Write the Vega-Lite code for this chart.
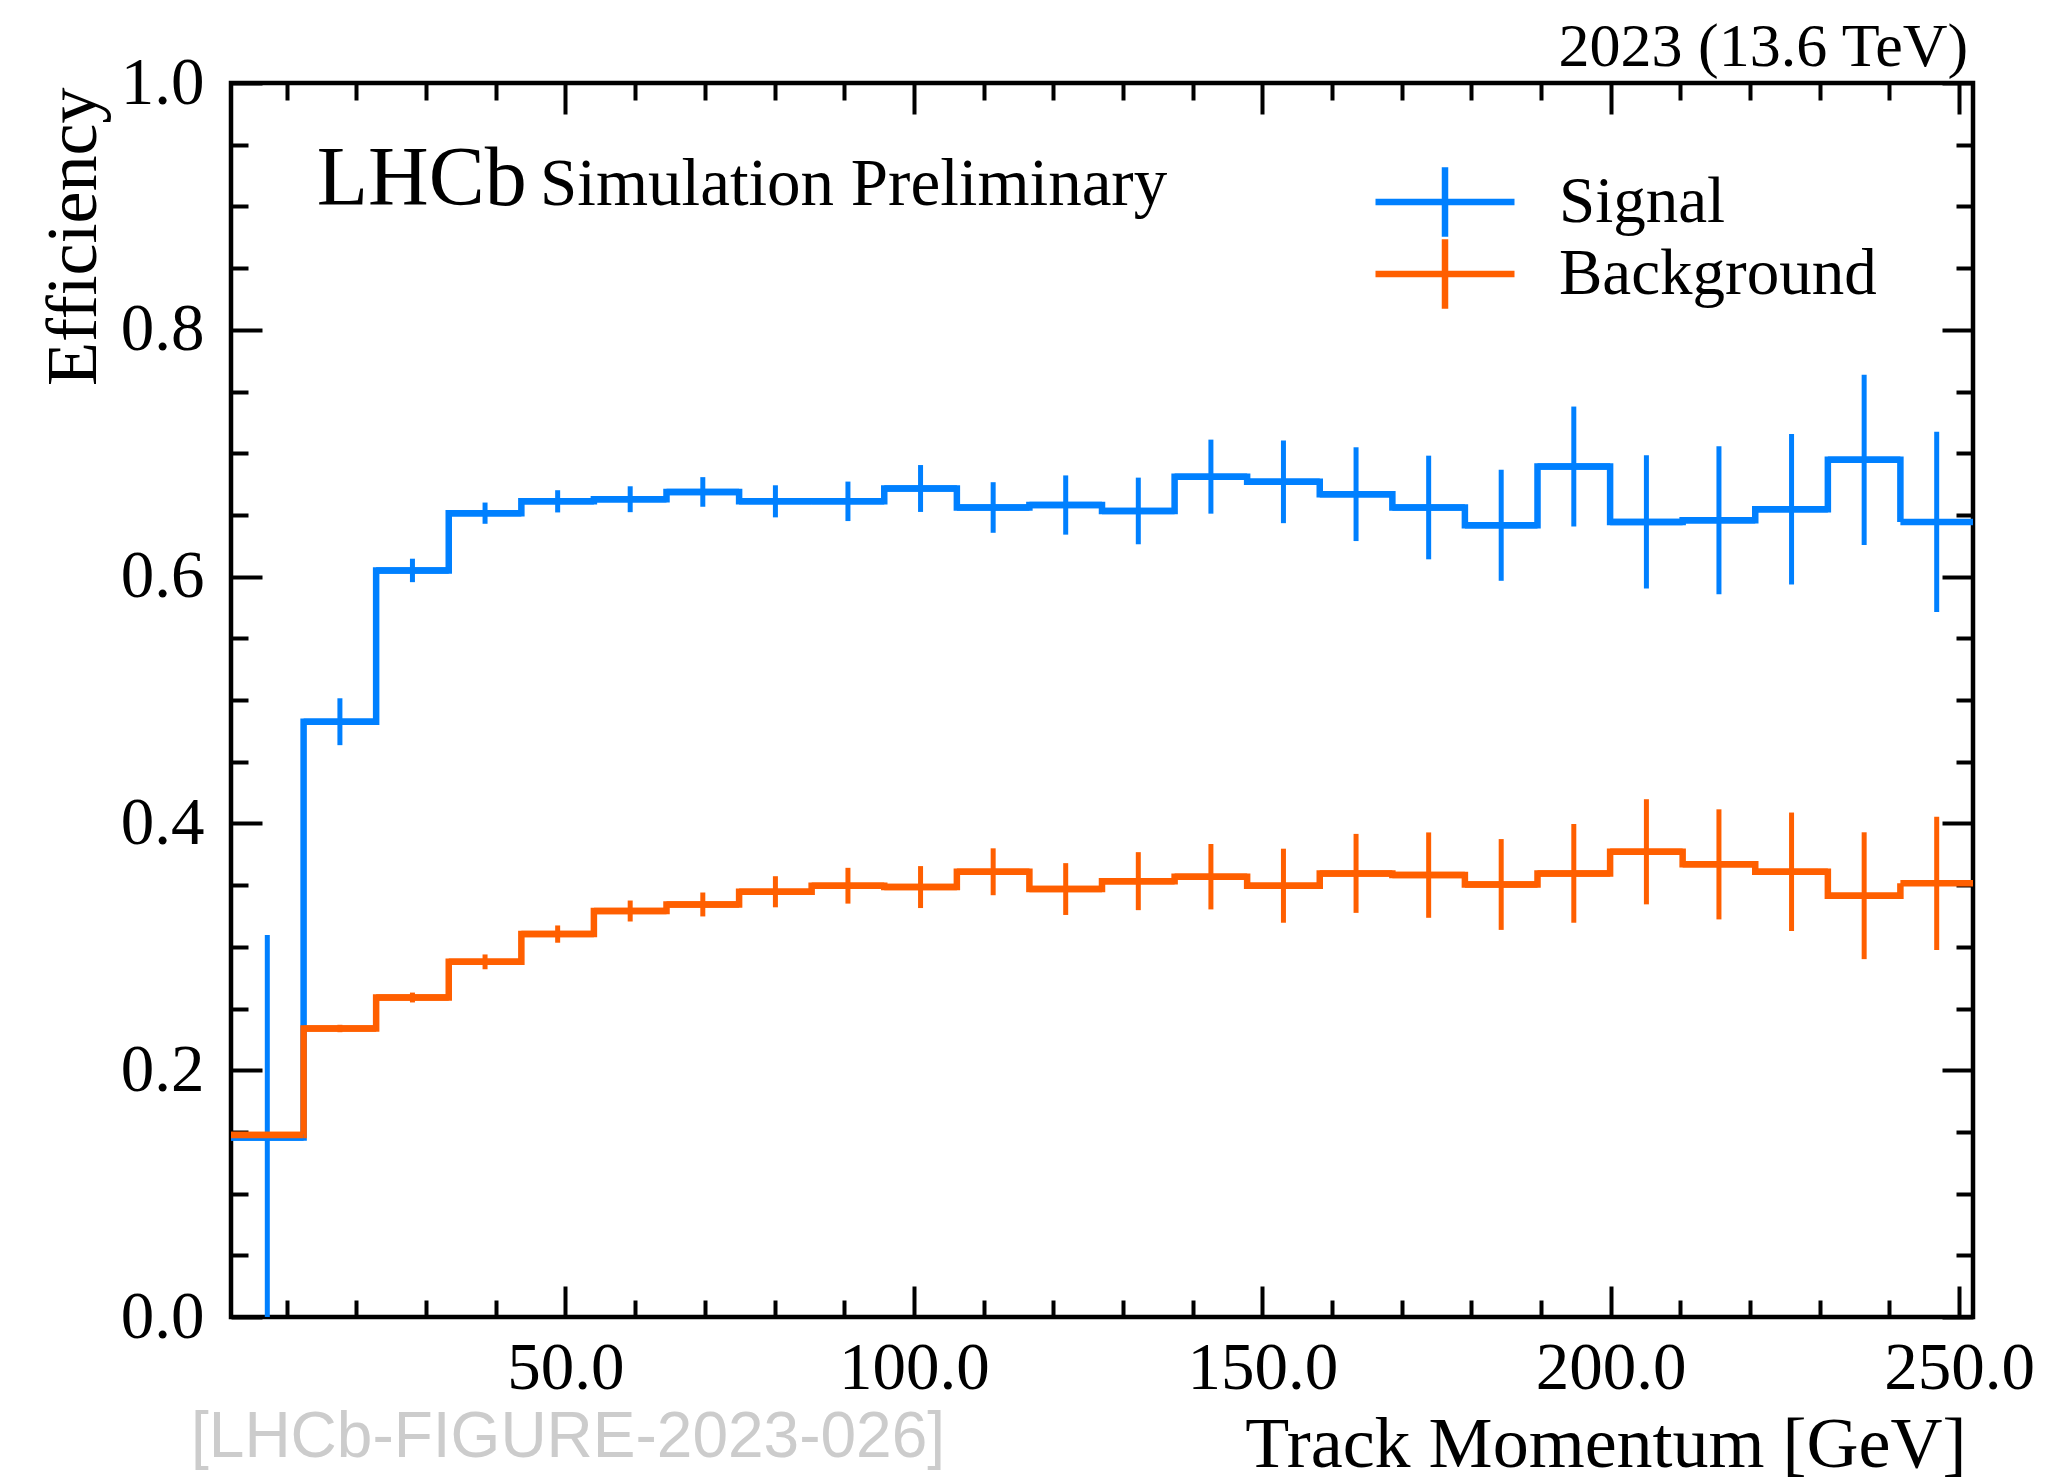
{
  "$schema": "https://vega.github.io/schema/vega-lite/v6.json",
  "width": 1742,
  "height": 1234,
  "autosize": {"type": "none"},
  "padding": {"left": 231, "top": 83, "right": 96, "bottom": 167},
  "background": "white",
  "config": {
    "view": {"stroke": "black", "strokeWidth": 4.5},
    "axis": {
      "domain": false,
      "grid": false,
      "tickColor": "black",
      "tickWidth": 4,
      "tickCap": "butt",
      "labelFont": "Liberation Serif",
      "labelFontSize": 67,
      "labelColor": "black",
      "titleFont": "Liberation Serif",
      "titleFontSize": 72,
      "titleFontWeight": "normal",
      "titleColor": "black",
      "labelFlush": false,
      "labelOverlap": false
    }
  },
  "datasets": {
    "bins": [
      {"s": "Signal", "lo": 2.0, "c": 7.21, "hi": 12.42, "eff": 0.1455, "elo": -0.018, "ehi": 0.3095},
      {"s": "Signal", "lo": 12.42, "c": 17.63, "hi": 22.83, "eff": 0.4824, "elo": 0.4634, "ehi": 0.5014},
      {"s": "Signal", "lo": 22.83, "c": 28.04, "hi": 33.25, "eff": 0.605, "elo": 0.5955, "ehi": 0.6145},
      {"s": "Signal", "lo": 33.25, "c": 38.46, "hi": 43.67, "eff": 0.6514, "elo": 0.6428, "ehi": 0.66},
      {"s": "Signal", "lo": 43.67, "c": 48.88, "hi": 54.08, "eff": 0.661, "elo": 0.652, "ehi": 0.67},
      {"s": "Signal", "lo": 54.08, "c": 59.29, "hi": 64.5, "eff": 0.6627, "elo": 0.6522, "ehi": 0.6732},
      {"s": "Signal", "lo": 64.5, "c": 69.71, "hi": 74.92, "eff": 0.6686, "elo": 0.6566, "ehi": 0.6806},
      {"s": "Signal", "lo": 74.92, "c": 80.13, "hi": 85.33, "eff": 0.661, "elo": 0.648, "ehi": 0.674},
      {"s": "Signal", "lo": 85.33, "c": 90.54, "hi": 95.75, "eff": 0.661, "elo": 0.645, "ehi": 0.677},
      {"s": "Signal", "lo": 95.75, "c": 100.96, "hi": 106.17, "eff": 0.6714, "elo": 0.6524, "ehi": 0.6904},
      {"s": "Signal", "lo": 106.17, "c": 111.38, "hi": 116.58, "eff": 0.656, "elo": 0.6355, "ehi": 0.6765},
      {"s": "Signal", "lo": 116.58, "c": 121.79, "hi": 127.0, "eff": 0.658, "elo": 0.634, "ehi": 0.682},
      {"s": "Signal", "lo": 127.0, "c": 132.21, "hi": 137.42, "eff": 0.6532, "elo": 0.6262, "ehi": 0.6802},
      {"s": "Signal", "lo": 137.42, "c": 142.63, "hi": 147.83, "eff": 0.681, "elo": 0.651, "ehi": 0.711},
      {"s": "Signal", "lo": 147.83, "c": 153.04, "hi": 158.25, "eff": 0.6768, "elo": 0.6433, "ehi": 0.7103},
      {"s": "Signal", "lo": 158.25, "c": 163.46, "hi": 168.67, "eff": 0.6668, "elo": 0.6288, "ehi": 0.7048},
      {"s": "Signal", "lo": 168.67, "c": 173.88, "hi": 179.08, "eff": 0.656, "elo": 0.614, "ehi": 0.698},
      {"s": "Signal", "lo": 179.08, "c": 184.29, "hi": 189.5, "eff": 0.6416, "elo": 0.5966, "ehi": 0.6866},
      {"s": "Signal", "lo": 189.5, "c": 194.71, "hi": 199.92, "eff": 0.6892, "elo": 0.6406, "ehi": 0.7378},
      {"s": "Signal", "lo": 199.92, "c": 205.13, "hi": 210.33, "eff": 0.6443, "elo": 0.5903, "ehi": 0.6983},
      {"s": "Signal", "lo": 210.33, "c": 215.54, "hi": 220.75, "eff": 0.6457, "elo": 0.5857, "ehi": 0.7057},
      {"s": "Signal", "lo": 220.75, "c": 225.96, "hi": 231.17, "eff": 0.6546, "elo": 0.5936, "ehi": 0.7156},
      {"s": "Signal", "lo": 231.17, "c": 236.38, "hi": 241.58, "eff": 0.6946, "elo": 0.6256, "ehi": 0.7636},
      {"s": "Signal", "lo": 241.58, "c": 246.79, "hi": 252.0, "eff": 0.6443, "elo": 0.5713, "ehi": 0.7173},
      {"s": "Background", "lo": 2.0, "c": 7.21, "hi": 12.42, "eff": 0.1475, "elo": 0.1455, "ehi": 0.1495},
      {"s": "Background", "lo": 12.42, "c": 17.63, "hi": 22.83, "eff": 0.2338, "elo": 0.2308, "ehi": 0.2368},
      {"s": "Background", "lo": 22.83, "c": 28.04, "hi": 33.25, "eff": 0.2589, "elo": 0.2549, "ehi": 0.2629},
      {"s": "Background", "lo": 33.25, "c": 38.46, "hi": 43.67, "eff": 0.2878, "elo": 0.2818, "ehi": 0.2938},
      {"s": "Background", "lo": 43.67, "c": 48.88, "hi": 54.08, "eff": 0.3103, "elo": 0.3033, "ehi": 0.3173},
      {"s": "Background", "lo": 54.08, "c": 59.29, "hi": 64.5, "eff": 0.329, "elo": 0.3205, "ehi": 0.3375},
      {"s": "Background", "lo": 64.5, "c": 69.71, "hi": 74.92, "eff": 0.3343, "elo": 0.3246, "ehi": 0.344},
      {"s": "Background", "lo": 74.92, "c": 80.13, "hi": 85.33, "eff": 0.3446, "elo": 0.332, "ehi": 0.3572},
      {"s": "Background", "lo": 85.33, "c": 90.54, "hi": 95.75, "eff": 0.3495, "elo": 0.335, "ehi": 0.364},
      {"s": "Background", "lo": 95.75, "c": 100.96, "hi": 106.17, "eff": 0.3484, "elo": 0.3314, "ehi": 0.3654},
      {"s": "Background", "lo": 106.17, "c": 111.38, "hi": 116.58, "eff": 0.3608, "elo": 0.3418, "ehi": 0.3798},
      {"s": "Background", "lo": 116.58, "c": 121.79, "hi": 127.0, "eff": 0.3468, "elo": 0.3258, "ehi": 0.3678},
      {"s": "Background", "lo": 127.0, "c": 132.21, "hi": 137.42, "eff": 0.3532, "elo": 0.3297, "ehi": 0.3767},
      {"s": "Background", "lo": 137.42, "c": 142.63, "hi": 147.83, "eff": 0.3568, "elo": 0.3303, "ehi": 0.3833},
      {"s": "Background", "lo": 147.83, "c": 153.04, "hi": 158.25, "eff": 0.3495, "elo": 0.3195, "ehi": 0.3795},
      {"s": "Background", "lo": 158.25, "c": 163.46, "hi": 168.67, "eff": 0.3595, "elo": 0.3275, "ehi": 0.3915},
      {"s": "Background", "lo": 168.67, "c": 173.88, "hi": 179.08, "eff": 0.3581, "elo": 0.3235, "ehi": 0.3927},
      {"s": "Background", "lo": 179.08, "c": 184.29, "hi": 189.5, "eff": 0.3505, "elo": 0.3137, "ehi": 0.3873},
      {"s": "Background", "lo": 189.5, "c": 194.71, "hi": 199.92, "eff": 0.3595, "elo": 0.3195, "ehi": 0.3995},
      {"s": "Background", "lo": 199.92, "c": 205.13, "hi": 210.33, "eff": 0.377, "elo": 0.3344, "ehi": 0.4196},
      {"s": "Background", "lo": 210.33, "c": 215.54, "hi": 220.75, "eff": 0.3668, "elo": 0.3222, "ehi": 0.4114},
      {"s": "Background", "lo": 220.75, "c": 225.96, "hi": 231.17, "eff": 0.3608, "elo": 0.3128, "ehi": 0.4088},
      {"s": "Background", "lo": 231.17, "c": 236.38, "hi": 241.58, "eff": 0.3414, "elo": 0.29, "ehi": 0.3928},
      {"s": "Background", "lo": 241.58, "c": 246.79, "hi": 252.0, "eff": 0.3514, "elo": 0.2974, "ehi": 0.4054}
    ]
  },
  "data": {"name": "bins"},
  "layer": [
    {
      "mark": {"type": "rule", "strokeWidth": 5, "clip": true},
      "encoding": {
        "x": {
          "field": "c",
          "type": "quantitative",
          "scale": {"domain": [2, 252], "nice": false, "zero": false},
          "axis": {
            "orient": "bottom",
            "title": "Track Momentum [GeV]",
            "values": [10, 20, 30, 40, 50, 60, 70, 80, 90, 100, 110, 120, 130, 140, 150, 160, 170, 180, 190, 200, 210, 220, 230, 240, 250],
            "tickSize": {"condition": {"test": "datum.value % 50 === 0", "value": -31}, "value": -17},
            "labelExpr": "datum.value % 50 === 0 ? format(datum.value, '.1f') : ''",
            "labelPadding": 49,
            "titleX": 1735,
            "titleY": 149,
            "titleAlign": "right",
            "titleBaseline": "alphabetic"
          }
        },
        "y": {
          "field": "elo",
          "type": "quantitative",
          "scale": {"domain": [0, 1], "nice": false, "zero": false},
          "axis": {
            "orient": "left",
            "title": "Efficiency",
            "values": [0, 0.05, 0.1, 0.15, 0.2, 0.25, 0.3, 0.35, 0.4, 0.45, 0.5, 0.55, 0.6, 0.65, 0.7, 0.75, 0.8, 0.85, 0.9, 0.95, 1],
            "tickSize": {"condition": {"test": "abs(datum.value*5 - round(datum.value*5)) < 0.000001", "value": -31}, "value": -17},
            "labelExpr": "abs(datum.value*5 - round(datum.value*5)) < 0.000001 ? format(datum.value, '.1f') : ''",
            "labelPadding": 58,
            "titleX": -136,
            "titleY": 4,
            "titleAngle": 270,
            "titleAlign": "right",
            "titleBaseline": "alphabetic"
          }
        },
        "y2": {"field": "ehi"},
        "color": {
          "field": "s",
          "type": "nominal",
          "scale": {"domain": ["Signal", "Background"], "range": ["#0080ff", "#ff5f00"]},
          "legend": {
            "title": null,
            "orient": "none",
            "legendX": 1144,
            "legendY": 83,
            "symbolType": "M-2,0H2M0,-1V1",
            "symbolSize": 4830,
            "symbolStrokeWidth": 6.5,
            "symbolOffset": 32,
            "clipHeight": 72,
            "labelFont": "Liberation Serif",
            "labelFontSize": 65,
            "labelColor": "black",
            "labelOffset": 76,
            "labelLimit": 0,
            "rowPadding": 0,
            "padding": 0
          }
        }
      }
    },
    {
      "mark": {"type": "line", "interpolate": "step-after", "strokeWidth": 6.5, "clip": true, "strokeJoin": "miter"},
      "encoding": {
        "x": {
          "field": "lo",
          "type": "quantitative",
          "axis": {
            "orient": "top",
            "title": null,
            "labels": false,
            "values": [10, 20, 30, 40, 50, 60, 70, 80, 90, 100, 110, 120, 130, 140, 150, 160, 170, 180, 190, 200, 210, 220, 230, 240, 250],
            "tickSize": {"condition": {"test": "datum.value % 50 === 0", "value": -31}, "value": -17}
          }
        },
        "y": {
          "field": "eff",
          "type": "quantitative",
          "axis": {
            "orient": "right",
            "title": null,
            "labels": false,
            "values": [0, 0.05, 0.1, 0.15, 0.2, 0.25, 0.3, 0.35, 0.4, 0.45, 0.5, 0.55, 0.6, 0.65, 0.7, 0.75, 0.8, 0.85, 0.9, 0.95, 1],
            "tickSize": {"condition": {"test": "abs(datum.value*5 - round(datum.value*5)) < 0.000001", "value": -31}, "value": -17}
          }
        },
        "color": {"field": "s", "type": "nominal"}
      }
    },
    {
      "mark": {"type": "rule", "strokeWidth": 6.5, "clip": true},
      "encoding": {
        "x": {"field": "lo", "type": "quantitative", "axis": null},
        "x2": {"field": "hi"},
        "y": {"field": "eff", "type": "quantitative", "axis": null},
        "color": {"field": "s", "type": "nominal"}
      }
    },
    {
      "data": {"values": [{}]},
      "mark": {"type": "text", "text": "LHCb", "font": "Liberation Serif", "fontSize": 84, "align": "left", "baseline": "alphabetic", "color": "black"},
      "encoding": {
        "x": {"datum": 14.3, "type": "quantitative", "axis": null},
        "y": {"datum": 0.9011, "type": "quantitative", "axis": null}
      }
    },
    {
      "data": {"values": [{}]},
      "mark": {"type": "text", "text": "Simulation Preliminary", "font": "Liberation Serif", "fontSize": 67, "align": "left", "baseline": "alphabetic", "color": "black"},
      "encoding": {
        "x": {"datum": 46.35, "type": "quantitative", "axis": null},
        "y": {"datum": 0.9011, "type": "quantitative", "axis": null}
      }
    },
    {
      "data": {"values": [{}]},
      "mark": {"type": "text", "text": "2023 (13.6 TeV)", "font": "Liberation Serif", "fontSize": 62, "align": "right", "baseline": "alphabetic", "color": "black"},
      "encoding": {
        "x": {"datum": 251.3, "type": "quantitative", "axis": null},
        "y": {"datum": 1.0138, "type": "quantitative", "axis": null}
      }
    },
    {
      "data": {"values": [{}]},
      "mark": {"type": "text", "text": "[LHCb-FIGURE-2023-026]", "font": "Liberation Sans", "fontSize": 64, "align": "left", "baseline": "alphabetic", "color": "#cccccc"},
      "encoding": {
        "x": {"datum": -3.74, "type": "quantitative", "axis": null},
        "y": {"datum": -0.1135, "type": "quantitative", "axis": null}
      }
    }
  ],
  "resolve": {"axis": {"x": "independent", "y": "independent"}}
}
